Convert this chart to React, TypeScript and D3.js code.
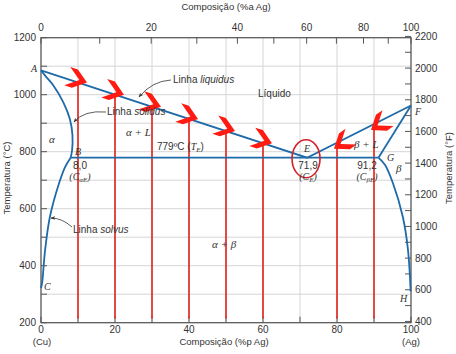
import React from "react";
import * as d3 from "d3";

const W = 456;
const H = 354;

// axis ticks
const wtTicks = [0, 10, 20, 30, 40, 50, 60, 70, 80, 90, 100];
const wtLabels = [0, 20, 40, 60, 80, 100];
const atTicks = [0, 10, 20, 30, 40, 50, 60, 70, 80, 90, 100];
const atLabels = [0, 20, 40, 60, 80, 100];
const tempTicksC = [200, 300, 400, 500, 600, 700, 800, 900, 1000, 1100, 1200];
const tempLabelsC = [200, 400, 600, 800, 1000, 1200];
const tempTicksF = [400, 500, 600, 700, 800, 900, 1000, 1100, 1200, 1300, 1400, 1500, 1600, 1700, 1800, 1900, 2000, 2100, 2200];
const tempLabelsF = [400, 600, 800, 1000, 1200, 1400, 1600, 1800, 2000, 2200];

// phase boundaries: [wt% Ag, °C]
const liquidus: [number, number][] = [[0, 1085], [71.9, 779], [100, 962]];
const solidusAlpha: [number, number][] = [[0, 1085], [1.5, 1061], [3.3, 1033], [6, 974], [7.8, 915], [8.5, 858], [8.4, 805], [8.0, 779]];
const solvusAlpha: [number, number][] = [[8.0, 779], [6.5, 746], [4.9, 690], [2.4, 571], [1.1, 454], [0.3, 340], [0, 322]];
const solidusBeta: [number, number][] = [[91.2, 779], [100, 962]];
const solvusBeta: [number, number][] = [[91.2, 779], [93, 753], [95.1, 690], [97.8, 571], [99.2, 454], [99.9, 310]];
const eutectic: [number, number][] = [[8.0, 779], [91.2, 779]];

// alloys marked with red verticals
const sampleComps = [10, 20, 30, 40, 50, 60, 80, 90];
const sampleBottom = 215;

const x = d3.scaleLinear().domain([0, 100]).range([41, 411]);
const y = d3.scaleLinear().domain([200, 1200]).range([322.7, 37.7]);

const atToWt = (a: number) => (100 * a * 107.87) / (a * 107.87 + (100 - a) * 63.55);
const fToC = (f: number) => ((f - 32) * 5) / 9;

const BLUE = "#1f6aa8";
const RED = "#e3211b";
const GRID = "#d6d6d6";
const AXIS = "#555";
const SANS = "'Liberation Sans', Arial, sans-serif";
const SERIF = "'Liberation Serif', 'Times New Roman', serif";

const line = d3.line<[number, number]>().x((d) => x(d[0])).y((d) => y(d[1]));
const curve = d3
  .line<[number, number]>()
  .x((d) => x(d[0]))
  .y((d) => y(d[1]))
  .curve(d3.curveCatmullRom.alpha(0.5));

const liquidusAt = (c: number) => {
  const [a, e, f] = liquidus;
  if (c <= e[0]) return a[1] + ((e[1] - a[1]) * (c - a[0])) / (e[0] - a[0]);
  return e[1] + ((f[1] - e[1]) * (c - e[0])) / (f[0] - e[0]);
};

// chevron pointing to +x, tip at origin
const chevron = (() => {
  const L = 16;
  const h = (37 * Math.PI) / 180;
  const n = 8;
  const cx = -L * Math.cos(h);
  const sy = L * Math.sin(h);
  return `M0,0L${cx},${-sy}L${cx - n},${-sy}L${-n},0L${cx - n},${sy}L${cx},${sy}Z`;
})();

export default function App() {
  const eX = x(liquidus[1][0]);
  const eY = y(liquidus[1][1]);

  return (
    <svg width={W} height={H} style={{ position: "absolute", left: 0, top: 0, background: "#fff" }}>
      <defs>
        <marker id="ah" viewBox="0 0 10 10" refX="9" refY="5" markerWidth="6" markerHeight="6" orient="auto">
          <path d="M0,1L10,5L0,9L3,5Z" fill="#333" />
        </marker>
      </defs>

      {/* grid */}
      {wtTicks.map((t) => (
        <line key={"gx" + t} x1={x(t)} x2={x(t)} y1={y(1200)} y2={y(200)} stroke={GRID} strokeWidth={1} />
      ))}
      {tempTicksC.map((t) => (
        <line key={"gy" + t} x1={x(0)} x2={x(100)} y1={y(t)} y2={y(t)} stroke={GRID} strokeWidth={1} />
      ))}

      {/* frame */}
      <rect x={x(0)} y={y(1200)} width={x(100) - x(0)} height={y(200) - y(1200)} fill="none" stroke={AXIS} strokeWidth={1.2} />

      {/* bottom ticks */}
      {wtTicks.map((t) => (
        <line key={"bt" + t} x1={x(t)} x2={x(t)} y1={y(200)} y2={y(200) - 6} stroke={AXIS} />
      ))}
      {wtLabels.map((t) => (
        <text key={"bl" + t} x={x(t)} y={333} textAnchor="middle" fontFamily={SANS} fontSize={10} fill="#333">
          {t}
        </text>
      ))}

      {/* top ticks (at%) */}
      {atTicks.map((t) => (
        <line key={"tt" + t} x1={x(atToWt(t))} x2={x(atToWt(t))} y1={y(1200)} y2={y(1200) + 6} stroke={AXIS} />
      ))}
      {atLabels.map((t) => (
        <text key={"tl" + t} x={x(atToWt(t))} y={31} textAnchor="middle" fontFamily={SANS} fontSize={10} fill="#333">
          {t}
        </text>
      ))}

      {/* left ticks */}
      {tempTicksC.map((t) => (
        <line key={"lt" + t} x1={x(0)} x2={x(0) + 6} y1={y(t)} y2={y(t)} stroke={AXIS} />
      ))}
      {tempLabelsC.map((t) => (
        <text key={"ll" + t} x={36} y={y(t) + 3.5} textAnchor="end" fontFamily={SANS} fontSize={10} fill="#333">
          {t}
        </text>
      ))}

      {/* right ticks (°F) */}
      {tempTicksF.map((t) => (
        <line key={"rt" + t} x1={x(100)} x2={x(100) - 6} y1={y(fToC(t))} y2={y(fToC(t))} stroke={AXIS} />
      ))}
      {tempLabelsF.map((t) => (
        <text key={"rl" + t} x={415} y={y(fToC(t)) + 3.5} textAnchor="start" fontFamily={SANS} fontSize={10} fill="#333">
          {t}
        </text>
      ))}

      {/* axis titles */}
      <text x={226} y={10} textAnchor="middle" fontFamily={SANS} fontSize={9.5} fill="#333">
        Composição (%a Ag)
      </text>
      <text x={224} y={345} textAnchor="middle" fontFamily={SANS} fontSize={9.5} fill="#333">
        Composição (%p Ag)
      </text>
      <text x={42} y={345} textAnchor="middle" fontFamily={SANS} fontSize={9.5} fill="#333">
        (Cu)
      </text>
      <text x={411} y={345} textAnchor="middle" fontFamily={SANS} fontSize={9.5} fill="#333">
        (Ag)
      </text>
      <text transform="translate(10,178) rotate(-90)" textAnchor="middle" fontFamily={SANS} fontSize={9.5} fill="#333">
        Temperatura (°C)
      </text>
      <text transform="translate(452,168) rotate(-90)" textAnchor="middle" fontFamily={SANS} fontSize={9.5} fill="#333">
        Temperatura (°F)
      </text>

      {/* red alloy verticals */}
      {sampleComps.map((c) => (
        <line key={"rv" + c} x1={x(c)} x2={x(c)} y1={y(sampleBottom)} y2={y(liquidusAt(c))} stroke={RED} strokeWidth={1.6} />
      ))}

      {/* phase boundaries */}
      <g fill="none" stroke={BLUE} strokeWidth={1.8}>
        <path d={line(liquidus) || ""} />
        <path d={curve(solidusAlpha) || ""} />
        <path d={curve(solvusAlpha) || ""} />
        <path d={line(solidusBeta) || ""} />
        <path d={curve(solvusBeta) || ""} />
        <path d={line(eutectic) || ""} />
      </g>

      {/* chevrons on liquidus */}
      {sampleComps.map((c) => {
        const px = x(c);
        const py = y(liquidusAt(c));
        const left = c < liquidus[1][0];
        const ang = Math.atan2(eY - py, eX - px);
        const deg = left ? (ang * 180) / Math.PI : 145;
        const tx = left ? px + 9 : px - 3;
        const ty = left ? py : py + 6;
        return <path key={"ch" + c} d={chevron} transform={`translate(${tx},${ty}) rotate(${deg})`} fill="#ff1a12" />;
      })}

      {/* eutectic circle */}
      <ellipse cx={eX - 1} cy={eY + 1} rx={14} ry={19} fill="none" stroke="#d4202a" strokeWidth={1.6} />

      {/* point letters */}
      <g fontFamily={SERIF} fontStyle="italic" fontSize={10} fill="#333">
        <text x={31} y={72}>A</text>
        <text x={75} y={155}>B</text>
        <text x={44} y={290}>C</text>
        <text x={304} y={152}>E</text>
        <text x={415} y={115}>F</text>
        <text x={387} y={161}>G</text>
        <text x={400} y={302}>H</text>
      </g>

      {/* phase region labels */}
      <g fontFamily={SERIF} fontStyle="italic" fontSize={11} fill="#333">
        <text x={49} y={143}>α</text>
        <text x={126} y={136}>α + L</text>
        <text x={354} y={148}>β + L</text>
        <text x={396} y={172}>β</text>
        <text x={212} y={248}>α + β</text>
      </g>
      <text x={258} y={97} fontFamily={SANS} fontSize={10} fill="#333">Líquido</text>

      <text x={157} y={150} fontFamily={SANS} fontSize={10} fill="#333">
        779ºC (<tspan fontFamily={SERIF} fontStyle="italic">T</tspan>
        <tspan fontFamily={SERIF} fontStyle="italic" fontSize={7} dy={2}>E</tspan>
        <tspan dy={-2}>)</tspan>
      </text>

      {/* composition annotations */}
      <g fontFamily={SANS} fontSize={10} fill="#333" textAnchor="middle">
        <text x={80} y={169}>8,0</text>
        <text x={308} y={169}>71,9</text>
        <text x={367} y={169}>91,2</text>
      </g>
      <g fontFamily={SERIF} fontStyle="italic" fontSize={10} fill="#333" textAnchor="middle">
        <text x={80} y={180}>
          (C<tspan fontSize={7} dy={2}>αE</tspan><tspan dy={-2}>)</tspan>
        </text>
        <text x={308} y={180}>
          (C<tspan fontSize={7} dy={2}>E</tspan><tspan dy={-2}>)</tspan>
        </text>
        <text x={367} y={180}>
          (C<tspan fontSize={7} dy={2}>βE</tspan><tspan dy={-2}>)</tspan>
        </text>
      </g>

      {/* line callouts */}
      <g fill="none" stroke="#333" strokeWidth={0.8} markerEnd="url(#ah)">
        <path d="M171,80 Q152,81 139,97" />
        <path d="M106,112 Q84,110 74,122" />
        <path d="M72,227 Q62,218 51,218" />
      </g>
      <text x={173} y={83} fontFamily={SANS} fontSize={10} fill="#333">
        Linha <tspan fontStyle="italic">liquidus</tspan>
      </text>
      <text x={107} y={115} fontFamily={SANS} fontSize={10} fill="#333">
        Linha <tspan fontStyle="italic">solidus</tspan>
      </text>
      <text x={73} y={233} fontFamily={SANS} fontSize={10} fill="#333">
        Linha <tspan fontStyle="italic">solvus</tspan>
      </text>
    </svg>
  );
}
